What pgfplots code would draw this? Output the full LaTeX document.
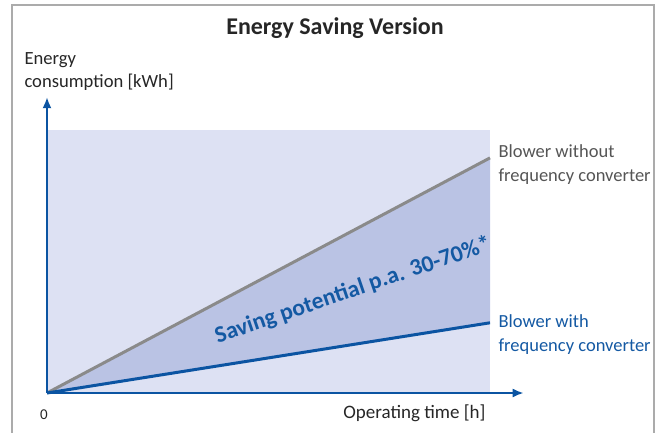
\documentclass[border=0pt]{standalone}
\usepackage{pgfplots}
\pgfplotsset{compat=1.18}
\usepackage{fontspec}
\setmainfont{Carlito}
\usetikzlibrary{arrows.meta}

\definecolor{bgfill}{HTML}{DDE1F3}
\definecolor{savefill}{HTML}{BAC3E4}
\definecolor{lineblue}{HTML}{0B54A2}
\definecolor{textblue}{HTML}{1459A3}
\definecolor{linegray}{HTML}{8A8A8A}
\definecolor{textgray}{HTML}{555555}
\definecolor{framegray}{HTML}{ABABAB}

\begin{document}
\begin{tikzpicture}[x=1bp,y=1bp]
  \useasboundingbox (0,0) rectangle (664,432);
  % outer frame
  \draw[framegray, line width=2bp] (12,-5) -- (12,427) -- (654,427) -- (654,-5);
  % title
  \node[font=\fontsize{24bp}{26bp}\selectfont\bfseries, text=black!85] at (335,404) {Energy Saving Version};
  % y label
  \node[anchor=west, align=left, font=\fontsize{18.6bp}{23bp}\selectfont, text=black!85] at (21,360)
    {Energy\\consumption [kWh]};

  \begin{axis}[
    at={(47bp,39bp)}, anchor=south west,
    width=443bp, height=263bp, scale only axis,
    xmin=0, xmax=1, ymin=0, ymax=1,
    hide axis, clip=false,
  ]
    % background region
    \addplot[fill=bgfill, draw=none] coordinates {(0,0) (1,0) (1,1) (0,1)} -- cycle;
    % saving potential between the two curves
    \addplot[fill=savefill, draw=none] coordinates {(0,0) (1,0.894) (1,0.267)} -- cycle;
    % without frequency converter
    \addplot[linegray, line width=3bp] coordinates {(0,0) (1,0.894)};
    % with frequency converter
    \addplot[lineblue, line width=3bp] coordinates {(0,0) (1,0.267)};
    % axes with arrow heads
    \draw[lineblue, line width=2bp, -{Latex[length=11bp,width=9bp]}] (axis cs:0,0) -- (axis cs:0,1.125);
    \draw[lineblue, line width=2bp, -{Latex[length=11bp,width=9bp]}] (axis cs:0,0) -- (axis cs:1.076,0);
  \end{axis}

  % axis annotations
  \node[font=\fontsize{15bp}{18bp}\selectfont, text=black!85] at (44,17) {0};
  \node[anchor=east, font=\fontsize{19bp}{21bp}\selectfont, text=black!85] at (489,19) {Operating time [h]};

  % curve labels
  \node[anchor=west, align=left, font=\fontsize{18.5bp}{24bp}\selectfont, text=textgray] at (495,267)
    {Blower without\\frequency converter};
  \node[anchor=west, align=left, font=\fontsize{18.5bp}{24bp}\selectfont, text=textblue] at (495,97)
    {Blower with\\frequency converter};

  % saving annotation
  \node[rotate=18.8, font=\fontsize{23.5bp}{26bp}\selectfont\bfseries, text=textblue] at (353,141.5)
    {Saving potential p.a. 30-70\%*};
\end{tikzpicture}
\end{document}
